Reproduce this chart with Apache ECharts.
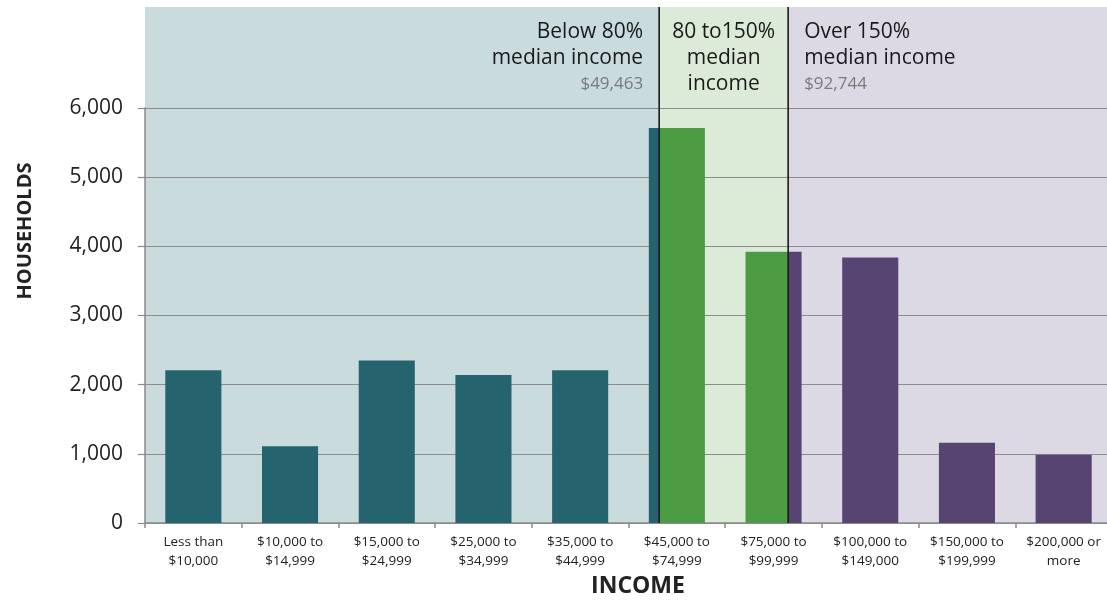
<!DOCTYPE html>
<html><head><meta charset="utf-8">
<script src="https://cdn.jsdelivr.net/npm/echarts@6/dist/echarts.min.js"></script>
<style>html,body{margin:0;padding:0;background:#fff;overflow:hidden}#c{width:1112px;height:600px}</style>
</head><body><div id="c"></div>
<script>
const categories = ['Less than\n$10,000', '$10,000 to\n$14,999', '$15,000 to\n$24,999', '$25,000 to\n$34,999', '$35,000 to\n$44,999', '$45,000 to\n$74,999', '$75,000 to\n$99,999', '$100,000 to\n$149,000', '$150,000 to\n$199,999', '$200,000 or\nmore'];
const households = [2210, 1110, 2350, 2140, 2210, 5710, 3920, 3840, 1160, 985];
const yTicks = [0, 1000, 2000, 3000, 4000, 5000, 6000];
// income-band edges, in category-position units along the x axis
const bandEdges = [0, 5.317, 6.651, 10];
const bandTitles = [['Below 80%', 'median income'], ['80 to150%', 'median', 'income'], ['Over 150%', 'median income']];
const bandSubs = ['$49,463', '', '$92,744'];
const dividers = [5.317, 6.651];
const barColors = ['#25636e', '#4b9c42', '#584472'];
const bandFills = ['#cadbdd', '#dcebd7', '#dcd8e4'];
const FONT = '"Open Sans", sans-serif';
const BAR_FRAC = 0.58;

function clamp01(v) { return Math.min(1, Math.max(0, Math.round(v * 10000) / 10000)); }
function barColor(i) {
  const left = i + 0.5 - BAR_FRAC / 2, right = i + 0.5 + BAR_FRAC / 2;
  const stops = [];
  for (let k = 0; k < barColors.length; k++) {
    const a = Math.max(bandEdges[k], left), b = Math.min(bandEdges[k + 1], right);
    if (b > a) {
      stops.push({offset: clamp01((a - left) / BAR_FRAC), color: barColors[k]});
      stops.push({offset: clamp01((b - left) / BAR_FRAC), color: barColors[k]});
    }
  }
  if (stops.length === 2) return stops[0].color;
  return {type: 'linear', x: 0, y: 0, x2: 1, y2: 0, colorStops: stops};
}

const chart = echarts.init(document.getElementById('c'), null, {renderer: 'canvas'});
const GRID_L = 145, GRID_R = 0;
chart.setOption({
  animation: false,
  backgroundColor: '#ffffff',
  grid: [
    {left: GRID_L, right: GRID_R, top: 108, bottom: 77},
    {left: GRID_L, right: GRID_R, top: 7, bottom: 77}
  ],
  xAxis: [
    {
      type: 'category', gridIndex: 0, data: categories,
      axisLine: {lineStyle: {color: '#8a8a8a', width: 1.5}},
      axisTick: {show: true, length: 5, interval: 0, lineStyle: {color: '#8a8a8a', width: 1.5}},
      axisLabel: {interval: 0, fontFamily: FONT, fontSize: 13.5, lineHeight: 19, color: '#222', margin: 10}
    },
    {type: 'value', gridIndex: 1, min: 0, max: 10, show: false}
  ],
  yAxis: [
    {
      type: 'value', gridIndex: 0, min: 0, max: 6000, interval: 1000,
      axisLine: {show: true, lineStyle: {color: '#8a8a8a', width: 1.5}},
      axisTick: {show: true, length: 7, lineStyle: {color: '#8a8a8a', width: 1.2}},
      splitLine: {show: true, lineStyle: {color: '#8c8c8c', width: 1.2}},
      axisLabel: {fontFamily: FONT, fontSize: 21, color: '#222', margin: 22,
        formatter: v => yTicks.includes(v) ? v.toLocaleString('en-US') : ''}
    },
    {type: 'value', gridIndex: 1, min: 0, max: 1, show: false}
  ],
  graphic: [
    {type: 'text', x: 25, y: 231, rotation: Math.PI / 2,
      style: {text: 'HOUSEHOLDS', font: 'bold 20px ' + FONT, fill: '#222', align: 'center', verticalAlign: 'middle'}},
    {type: 'text', x: 638, y: 586,
      style: {text: 'INCOME', font: 'bold 23px ' + FONT, fill: '#222', align: 'center', verticalAlign: 'middle'}}
  ],
  series: [
    {
      type: 'custom', xAxisIndex: 1, yAxisIndex: 1, z: -10, silent: true,
      data: bandFills.map((_, k) => [bandEdges[k], bandEdges[k + 1], k]),
      renderItem: function (params, api) {
        const k = api.value(2);
        const p0 = api.coord([api.value(0), 1]);
        const p1 = api.coord([api.value(1), 0]);
        const children = [{type: 'rect', shape: {x: p0[0], y: p0[1], width: p1[0] - p0[0], height: p1[1] - p0[1]},
          style: {fill: bandFills[k]}}];
        let tx, align;
        if (k === 0) { tx = p1[0] - 16; align = 'right'; }
        else if (k === 1) { tx = (p0[0] + p1[0]) / 2; align = 'center'; }
        else { tx = p0[0] + 16; align = 'left'; }
        const lines = bandTitles[k].map(t => ({t, sub: false}));
        if (bandSubs[k]) lines.push({t: bandSubs[k], sub: true});
        lines.forEach((ln, j) => {
          children.push({type: 'text', style: {
            text: ln.t, x: tx, y: p0[1] + 25 + 26 * j, align, verticalAlign: 'middle',
            font: (ln.sub ? '17px ' : '21px ') + FONT, fill: ln.sub ? '#7a7a7a' : '#1a1a1a'}});
        });
        return {type: 'group', children};
      }
    },
    {
      type: 'bar', xAxisIndex: 0, yAxisIndex: 0, barWidth: (BAR_FRAC * 100) + '%', z: 2,
      data: households.map((v, i) => ({value: v, itemStyle: {color: barColor(i)}}))
    },
    {
      type: 'custom', xAxisIndex: 1, yAxisIndex: 1, z: 10, silent: true,
      data: dividers.map(d => [d]),
      renderItem: function (params, api) {
        const a = api.coord([api.value(0), 1]);
        const b = api.coord([api.value(0), 0]);
        return {type: 'line', shape: {x1: a[0], y1: a[1], x2: b[0], y2: b[1]},
          style: {stroke: '#1a1a1a', lineWidth: 1.6}};
      }
    }
  ]
});
</script></body></html>
